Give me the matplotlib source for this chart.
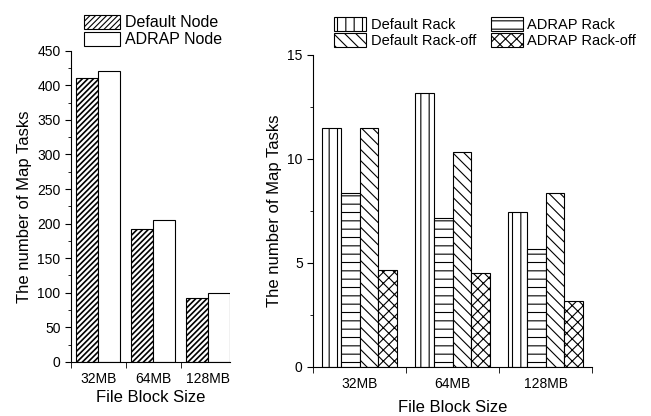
import numpy as np
import matplotlib; matplotlib.use('Agg')
import matplotlib.pyplot as plt
from matplotlib.ticker import MultipleLocator, FixedLocator

plt.rcParams['font.family'] = ['Liberation Sans', 'DejaVu Sans']
plt.rcParams['hatch.linewidth'] = 0.8

sizes = ['32MB', '64MB', '128MB']
default_node = [410, 192, 93]
adrap_node = [420, 205, 100]
default_rack = [11.5, 13.15, 7.45]
adrap_rack = [8.35, 7.15, 5.65]
default_rackoff = [11.5, 10.35, 8.35]
adrap_rackoff = [4.65, 4.5, 3.15]

fig = plt.figure(figsize=(6.51, 4.16), dpi=100)
axL = fig.add_axes([0.109, 0.130, 0.244, 0.748])
axR = fig.add_axes([0.481, 0.118, 0.4286, 0.750])

x = np.arange(len(sizes))

# left panel
w = 0.4
bn = axL.bar(x - w/2, default_node, w, color='white', edgecolor='black', hatch='//////', lw=0.8, label='Default Node')
for p in bn:
    try:
        p.set_hatch_linewidth(1.2)
    except AttributeError:
        pass
axL.bar(x + w/2, adrap_node, w, color='white', edgecolor='black', lw=0.8, label='ADRAP Node')
axL.set_ylim(0, 450)
axL.set_xlim(-0.5, 2.4)
axL.yaxis.set_major_locator(MultipleLocator(50))
axL.yaxis.set_minor_locator(MultipleLocator(25))
axL.legend(loc='lower left', bbox_to_anchor=(0.03, 0.985), frameon=False, fontsize=11.5,
           handlelength=2.3, handleheight=0.95, handletextpad=0.3, labelspacing=0.1, borderpad=0)

# right panel
w = 0.2
series = [(default_rack, '||', 'Default Rack'), (adrap_rack, '--', 'ADRAP Rack'),
          (default_rackoff, '\\\\\\', 'Default Rack-off'), (adrap_rackoff, 'xxx', 'ADRAP Rack-off')]
for i, (vals, h, lab) in enumerate(series):
    axR.bar(x + (i - 1.5) * w, vals, w, color='white', edgecolor='black', hatch=h, lw=0.8, label=lab)
axR.set_ylim(0, 15)
axR.set_xlim(-0.5, 2.5)
axR.yaxis.set_major_locator(MultipleLocator(5))
axR.yaxis.set_minor_locator(MultipleLocator(2.5))
h, l = axR.get_legend_handles_labels()
order = [0, 2, 1, 3]
axR.legend([h[k] for k in order], [l[k] for k in order], loc='lower left', bbox_to_anchor=(0.05, 1.0),
           ncol=2, frameon=False, fontsize=10.5, handlelength=2.2, handleheight=1.1,
           handletextpad=0.3, labelspacing=0.05, columnspacing=1.0, borderpad=0)

for ax in (axL, axR):
    ax.spines['top'].set_visible(False)
    ax.spines['right'].set_visible(False)
    ax.set_xticks(x)
    ax.set_xticklabels(sizes)
    ax.xaxis.set_minor_locator(FixedLocator([-0.5, 0.5, 1.5, 2.5]))
    ax.tick_params(axis='x', which='major', length=0, pad=7, labelsize=10)
    ax.tick_params(axis='x', which='minor', length=4, direction='out')
    ax.tick_params(axis='y', which='major', length=4, direction='out', labelsize=10)
    ax.tick_params(axis='y', which='minor', length=2, direction='out')
    ax.set_ylabel('The number of Map Tasks', fontsize=12)
axL.set_xlabel('File Block Size', fontsize=12, labelpad=3)
axR.set_xlabel('File Block Size', fontsize=12, labelpad=7)

fig.savefig('out.png', dpi=100)
